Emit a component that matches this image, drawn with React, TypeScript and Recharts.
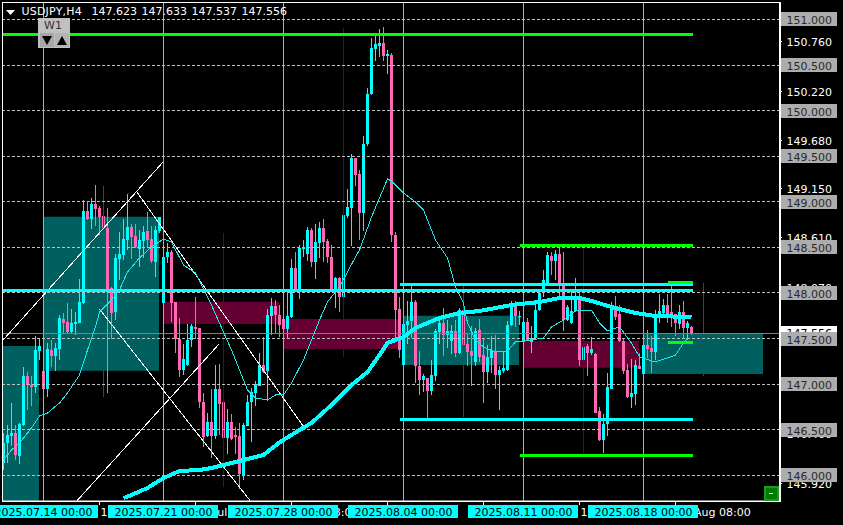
import { Bar, ComposedChart, Line, ReferenceArea, ReferenceLine, XAxis, YAxis } from "recharts";

const opens = [
  146.135,146.354,146.434,146.463,146.215,146.555,147.091,146.993,146.963,147.361,
  147.146,146.949,147.376,147.31,147.387,147.715,147.682,147.569,147.66,147.675,
  147.887,148.898,148.81,148.974,148.931,148.843,148.708,148.051,147.796,148.372,
  148.416,148.58,148.723,148.624,148.482,148.569,148.679,148.588,148.343,148.682,
  147.894,148.39,148.449,147.901,147.5,147.157,147.212,147.485,147.628,147.617,
  146.806,146.427,146.58,146.434,146.952,146.799,146.412,146.587,146.445,146.434,
  146.007,146.544,146.8,146.901,146.982,147.212,147.139,147.748,147.858,147.759,
  147.712,147.606,147.741,148.277,148.033,148.478,148.427,148.69,148.339,148.551,
  148.708,148.569,148.39,148.04,148.16,147.956,148.843,148.931,149.478,149.303,
  148.88,149.632,150.179,150.672,150.705,150.741,150.595,150.606,148.635,147.825,
  147.208,147.653,147.69,147.901,147.204,147.04,147.062,146.923,147.088,147.573,
  147.672,147.544,147.478,147.588,147.343,147.81,147.445,147.358,147.241,147.599,
  147.314,147.131,147.288,147.361,147.102,147.142,147.16,147.653,147.861,147.737,
  147.46,147.679,147.46,147.507,147.81,148,148.11,148.409,148.354,148.431,
  148.091,147.708,147.672,147.8,147.945,147.27,147.423,147.343,147.325,146.701,
  146.383,146.558,146.952,147.836,147.774,147.474,147.15,146.858,146.887,147.204,
  147.109,147.434,147.394,147.35,147.737,147.781,147.872,147.788,147.77,147.664,
  147.796,147.62,147.623,
];
const highs = [
  146.463,146.555,146.792,146.555,146.57,147.193,147.138,147.084,147.529,147.503,
  147.248,147.449,147.485,147.449,147.759,147.777,147.887,147.821,147.792,148.153,
  149.018,149,149.037,149.183,148.953,148.872,148.927,148.069,148.427,148.664,
  148.807,149.084,148.755,148.755,148.69,148.737,148.883,148.734,148.734,148.828,
  148.526,148.544,148.47,147.905,147.723,147.441,147.657,147.66,147.953,147.617,
  146.901,146.682,146.952,147.212,147.223,146.9,146.73,146.675,146.525,146.57,
  146.573,146.883,146.956,147.029,147.339,147.515,147.821,147.942,147.923,147.869,
  147.85,148.01,148.372,148.445,148.526,148.58,148.719,148.708,148.756,148.777,
  148.807,148.591,148.522,148.179,148.179,148.982,149.139,149.529,149.478,149.347,
  149.719,150.252,150.792,150.821,150.891,150.913,150.66,150.632,148.668,147.953,
  147.67,147.909,148.08,147.927,147.361,147.113,147.062,147.263,147.606,147.737,
  147.836,147.708,147.653,147.708,147.836,147.898,147.562,147.642,147.617,147.715,
  147.507,147.434,147.533,147.544,147.197,147.361,147.69,147.909,147.909,147.8,
  147.679,147.726,147.635,147.891,148.036,148.255,148.445,148.445,148.474,148.5,
  148.449,147.872,148.036,148.164,148.036,147.573,147.445,147.518,147.343,146.752,
  146.668,147.117,147.901,147.971,147.872,147.507,147.226,147.277,147.263,147.343,
  147.489,147.591,147.526,147.81,147.993,147.934,147.993,148.091,147.774,147.865,
  147.909,147.697,147.633,
];
const lows = [
  146.06,146.135,146.317,146.164,146.128,146.536,146.719,146.755,146.901,147.266,
  146.949,146.854,147.193,147.149,147.266,147.558,147.558,147.551,147.54,147.668,
  147.879,148.799,148.701,148.734,148.635,148.453,146.901,147.493,147.704,148.142,
  148.361,148.471,148.372,148.489,148.288,148.38,148.489,148.325,148.179,148.653,
  147.887,148.325,147.686,147.339,147.073,147.102,147.201,147.412,147.5,146.737,
  146.31,146.42,146.19,146.398,146.445,146.135,146.237,146.39,146.237,145.85,
  145.952,146.536,146.361,146.755,146.975,147.12,146.81,147.54,147.558,147.522,
  147.53,147.5,147.73,148.025,147.938,148.39,148.354,148.288,148.157,148.387,
  148.343,148.332,148.033,147.836,147.792,147.85,148.825,148.518,149.175,148.58,
  148.683,149.61,150.168,150.544,150.588,150.544,150.398,148.562,147.485,147.285,
  147.2,147.445,147.507,147.015,146.876,146.912,146.631,146.876,147.033,147.445,
  147.307,147.398,147.325,147.299,147.325,147.215,147.204,146.978,147.197,147.241,
  146.795,147.015,147.124,146.942,146.712,147.124,147.142,147.635,147.628,147.65,
  147.452,147.47,147.343,147.496,147.8,147.96,148.09,148.2,148.146,147.92,
  147.58,147.69,147.664,147.788,147.204,147.15,147.088,147.314,146.686,146.376,
  146.248,146.43,146.942,147.708,147.464,147.106,146.85,146.733,146.766,147.171,
  147.106,147.288,147.117,147.27,147.671,147.726,147.671,147.628,147.533,147.606,
  147.507,147.489,147.537,
];
const closes = [
  146.354,146.445,146.463,146.226,146.565,147.091,146.985,146.97,147.376,147.42,
  146.949,147.387,147.31,147.398,147.73,147.668,147.569,147.668,147.682,147.901,
  148.898,148.81,148.974,148.92,148.836,148.708,148.033,147.785,148.38,148.427,
  148.588,148.723,148.617,148.5,148.58,148.668,148.58,148.35,148.69,148.828,
  148.39,148.449,147.894,147.493,147.157,147.277,147.485,147.639,147.602,146.799,
  146.42,146.587,146.434,146.952,146.784,146.412,146.587,146.401,146.423,146.018,
  146.555,146.799,146.909,147.004,147.212,147.128,147.759,147.858,147.759,147.65,
  147.609,147.748,148.277,148.033,148.489,148.489,148.69,148.339,148.555,148.708,
  148.562,148.398,148.04,148.16,147.956,148.85,148.938,149.478,149.296,148.88,
  149.632,150.186,150.683,150.727,150.741,150.595,150.617,148.635,147.814,147.376,
  147.664,147.697,147.901,147.197,147.04,147.084,146.923,147.095,147.588,147.672,
  147.544,147.588,147.588,147.343,147.81,147.431,147.35,147.307,147.588,147.299,
  147.131,147.296,147.372,147.095,147.16,147.175,147.653,147.861,147.744,147.744,
  147.679,147.482,147.507,147.818,148,148.146,148.42,148.354,148.431,148.091,
  147.708,147.847,147.807,147.934,147.27,147.409,147.343,147.38,146.686,146.383,
  146.558,146.963,147.836,147.737,147.474,147.139,146.858,146.898,147.212,147.171,
  147.434,147.38,147.35,147.737,147.799,147.872,147.774,147.763,147.672,147.796,
  147.62,147.675,147.556,
];

const slowBars = [30,32,36,40,44,49,52,56,60,65,69,74,77,82,87,91,94,96,100,103,109,114,119,127,134,139,144,147,152,158,163,172];
const slowVals = [145.75,145.784,145.861,145.97,146.047,146.058,146.08,146.124,146.168,146.223,146.36,146.497,146.574,146.771,146.99,147.133,147.32,147.451,147.517,147.616,147.725,147.78,147.802,147.868,147.901,147.945,147.945,147.912,147.846,147.78,147.747,147.736];
const fastBars = [0,2,4,7,9,11,14,16,19,21,23,24,27,29,31,34,37,40,42,45,48,52,57,61,63,66,68,70,72,75,79,81,84,88,89,92,96,97,100,103,105,108,111,113,115,116,118,120,123,126,128,132,135,137,140,143,147,149,151,154,157,159,163,168,170,171];
const fastVals = [146.168,146.277,146.354,146.519,146.65,146.683,146.793,146.903,147.1,147.374,147.627,147.791,147.923,148.033,148.23,148.384,148.504,148.592,148.559,148.307,148.219,147.868,147.374,146.936,146.848,146.826,146.881,146.881,147.012,147.265,147.703,147.901,148.066,148.395,148.471,148.833,149.25,149.228,149.097,148.998,148.91,148.581,148.384,148.066,147.89,147.671,147.484,147.407,147.352,147.363,147.462,147.484,147.506,147.627,147.703,147.802,147.813,147.671,147.583,147.627,147.451,147.298,147.243,147.319,147.451,147.506];

// higher timeframe candles behind the bars: [start, end, top, bottom]
const tealBoxes = [[-0.125,8.875,147.418,145.718],[9.875,38.875,148.836,147.147],[99.875,128.875,147.751,147.21],[159.875,189.875,147.557,147.11]];
const maroonBoxes = [[39.875,68.875,147.904,147.66],[69.875,98.875,147.714,147.385],[129.875,158.875,147.473,147.18]];
const tealWicks = [[25,149.173,146.859],[115,148.087,146.639],[175,148.109,147.089]];
const maroonWicks = [[55,148.658,145.872],[85,150.907,147.298],[145,148.504,146.245]];

const diagonals = [
  [-0.1,147.484,39.9,149.437],
  [33.15,149.119,74.9,146.541],
  [23.98,147.824,61.65,145.722],
  [18.4,145.722,53.9,147.44],
];
// [from, to, price]
const greenLevels = [[-0.25,172.25,150.838],[129,172.25,148.521],[166,172.25,148.12],[166,172.25,147.455],[129,172.25,146.219]];
const cyanLevels = [[-0.25,172.25,148.025],[99,172.25,148.095],[99,172.25,146.614]];
const dashedLevels = [151,150.5,150,149.5,149,148.5,148,147.5,147,146.5,146];
const weekStarts = [10,40,70,100,130,160];
const weekLabels = ["2025.07.14 00:00","2025.07.21 00:00","2025.07.28 00:00","2025.08.04 00:00","2025.08.11 00:00","2025.08.18 00:00"];
const timeTicks = [24,48,72,96,120,144,168];
const timeLabels = ["16 Jul 08:00","22 Jul 08:00","28 Jul 08:00","1 Aug 16:00","7 Aug 08:00","13 Aug 08:00","19 Aug 08:00"];
const priceTicks = [150.76,150.22,149.68,149.15,148.61,148.07,146.46,145.92];
const currentPrice = 147.556;

const rows = opens.map((open, i) => ({
  i,
  open,
  high: highs[i],
  low: lows[i],
  close: closes[i],
  slow: slowBars.includes(i) ? slowVals[slowBars.indexOf(i)] : null,
  fast: fastBars.includes(i) ? fastVals[fastBars.indexOf(i)] : null,
}));

const FONT = "'DejaVu Sans', sans-serif";
const CYAN = "#00ffff";
const PINK = "#ff69b4";
const GREEN = "#00ff00";

function Candle(props: any) {
  const { x, y, width, height, payload } = props;
  const span = payload.high - payload.low;
  if (!span) return null;
  const perUnit = height / span;
  const centre = x + width / 2;
  const top = y + (payload.high - Math.max(payload.open, payload.close)) * perUnit;
  const bodyH = Math.max(1, Math.abs(payload.open - payload.close) * perUnit);
  const color = payload.close >= payload.open ? CYAN : PINK;
  return (
    <g shapeRendering="crispEdges">
      <rect x={centre - 0.5} y={y} width={1} height={height} fill={color} />
      <rect x={centre - 1.5} y={top} width={3} height={bodyH} fill={color} />
    </g>
  );
}

function PriceTick(props: any) {
  const { y, payload } = props;
  const v = payload.value;
  const left = 781;
  const mid = Math.round(y);
  if (dashedLevels.includes(v)) {
    return (
      <g>
        <rect x={left} y={mid - 7} width={56} height={14} fill="#adadad" />
        <text x={left + 5.5} y={mid + 5} fontFamily={FONT} fontSize={11} fill="#2a2a2a">{v.toFixed(3)}</text>
      </g>
    );
  }
  if (v === currentPrice) {
    return (
      <g>
        <rect x={left} y={mid - 7} width={56} height={13} fill="#ffffff" />
        <text x={left + 5.5} y={mid + 4} fontFamily={FONT} fontSize={11} fill="#000000">{v.toFixed(3)}</text>
      </g>
    );
  }
  return (
    <g>
      <line x1={779.5} x2={782} y1={mid + 0.5} y2={mid + 0.5} stroke="#ffffff" />
      <text x={left + 5.5} y={mid + 5} fontFamily={FONT} fontSize={11} fill="#ffffff">{v.toFixed(3)}</text>
    </g>
  );
}

function TimeTick(props: any) {
  const { x, payload } = props;
  const week = weekStarts.indexOf(payload.value);
  if (week >= 0) {
    return (
      <g>
        <rect x={x - 55.5} y={505} width={110} height={13} fill={CYAN} />
        <text x={x} y={516} textAnchor="middle" fontFamily={FONT} fontSize={11} fill="#000000">{weekLabels[week]}</text>
      </g>
    );
  }
  return (
    <g>
      <line x1={x} x2={x} y1={501} y2={505} stroke="#ffffff" />
      <text x={x + 1} y={516} fontFamily={FONT} fontSize={11} fill="#ffffff">{timeLabels[timeTicks.indexOf(payload.value)]}</text>
    </g>
  );
}

function Header() {
  const quote = [["147.623", 91.5], ["147.633", 141.5], ["147.537", 191.5], ["147.556", 241.5]];
  const text: any = { position: "absolute", top: 5, color: "#fff", fontFamily: FONT, fontSize: 11, lineHeight: "14px", whiteSpace: "pre" };
  return (
    <>
      <svg style={{ position: "absolute", left: 0, top: 0 }} width={843} height={525}>
        <polygon points="6,10 15,10 10.5,15" fill="#fff" />
        <rect x={38} y={18} width={32} height={30} fill="#c0c0c0" />
        <rect x={40} y={33} width={14} height={14} fill="#a8a8a8" />
        <rect x={55} y={33} width={14} height={14} fill="#b4b4b4" />
        <polygon points="42,36 52,36 47,45" fill="#000" />
        <polygon points="57,45 67,45 62,36" fill="#000" />
        <rect x={764} y={486} width={15} height={15} fill="#1c9a1c" />
        <rect x={766} y={488} width={11} height={11} fill="#007a00" />
        <rect x={769} y={493} width={4} height={1} fill="#fff" />
      </svg>
      <div style={{ ...text, left: 21.5, letterSpacing: 0.2 }}>USDJPY,H4</div>
      {quote.map(([q, left]) => (
        <div key={q as string} style={{ ...text, left: left as number }}>{q}</div>
      ))}
      <div style={{ ...text, left: 44, top: 19, color: "#333" }}>W1</div>
    </>
  );
}

export default function App() {
  return (
    <div style={{ position: "absolute", left: 0, top: 0, width: 843, height: 525, background: "#000", overflow: "hidden" }}>
      <ComposedChart width={843} height={525} data={rows} margin={{ top: 2.5, right: 0, bottom: 0, left: 2.5 }}>
        <XAxis
          dataKey="i"
          type="number"
          domain={[-0.25, 194]}
          allowDataOverflow
          ticks={[...timeTicks, ...weekStarts]}
          interval={0}
          height={24}
          tick={<TimeTick />}
          tickLine={false}
          axisLine={{ stroke: "#fff" }}
        />
        <YAxis
          orientation="right"
          type="number"
          domain={[145.718, 151.186]}
          allowDataOverflow
          ticks={[...priceTicks, currentPrice, ...dashedLevels]}
          interval={0}
          width={63.5}
          tick={<PriceTick />}
          tickLine={false}
          axisLine={{ stroke: "#fff" }}
        />
        {tealBoxes.map(([x1, x2, y1, y2]) => (
          <ReferenceArea key={x1} x1={x1} x2={x2} y1={y1} y2={y2} fill="#006060" fillOpacity={1} stroke="none" ifOverflow="hidden" />
        ))}
        {maroonBoxes.map(([x1, x2, y1, y2]) => (
          <ReferenceArea key={x1} x1={x1} x2={x2} y1={y1} y2={y2} fill="#660033" fillOpacity={1} stroke="none" />
        ))}
        {tealWicks.map(([x, y1, y2]) => (
          <ReferenceLine key={x} segment={[{ x, y: y1 }, { x, y: y2 }]} stroke="#006060" />
        ))}
        {maroonWicks.map(([x, y1, y2]) => (
          <ReferenceLine key={x} segment={[{ x, y: y1 }, { x, y: y2 }]} stroke="#660033" />
        ))}
        {weekStarts.map((x) => (
          <ReferenceLine key={x} x={x} stroke="#40e0d0" />
        ))}
        {dashedLevels.map((y) => (
          <ReferenceLine key={y} y={y} stroke="#c0c0c0" strokeDasharray="3 2" shapeRendering="crispEdges" />
        ))}
        <ReferenceLine y={currentPrice} stroke="#808080" shapeRendering="crispEdges" />
        {diagonals.map(([x1, y1, x2, y2]) => (
          <ReferenceLine key={x1} segment={[{ x: x1, y: y1 }, { x: x2, y: y2 }]} stroke="#ffffff" shapeRendering="crispEdges" />
        ))}
        <Bar dataKey={(d: any) => [d.low, d.high]} barSize={3} shape={<Candle />} isAnimationActive={false} />
        <Line dataKey="fast" stroke="#20e8e8" strokeWidth={1} dot={false} connectNulls isAnimationActive={false} shapeRendering="crispEdges" />
        <Line dataKey="slow" stroke={CYAN} strokeWidth={4} dot={false} connectNulls isAnimationActive={false} shapeRendering="crispEdges" />
        {cyanLevels.map(([x1, x2, y]) => (
          <ReferenceLine key={y} segment={[{ x: x1, y }, { x: x2, y }]} stroke={CYAN} strokeWidth={3} shapeRendering="crispEdges" />
        ))}
        {greenLevels.map(([x1, x2, y]) => (
          <ReferenceLine key={y} segment={[{ x: x1, y }, { x: x2, y }]} stroke={GREEN} strokeWidth={3} shapeRendering="crispEdges" />
        ))}
      </ComposedChart>
      <div style={{ position: "absolute", left: 2, top: 2, width: 777, height: 498, border: "1px solid #fff", pointerEvents: "none" }} />
      <Header />
    </div>
  );
}
